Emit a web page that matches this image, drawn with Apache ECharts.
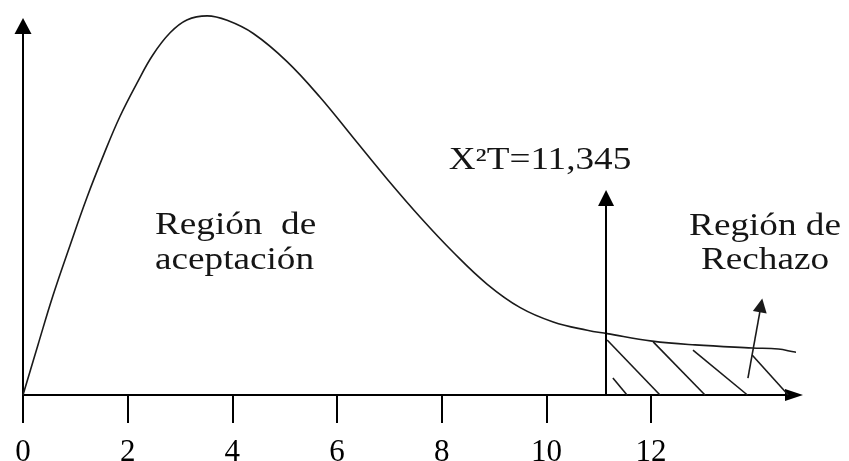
<!DOCTYPE html>
<html>
<head>
<meta charset="utf-8">
<script src="https://cdn.jsdelivr.net/npm/echarts@6.0.0/dist/echarts.min.js"></script>
<style>
html, body { margin: 0; padding: 0; background: #fff; }
#chart { width: 849px; height: 461px; }
</style>
</head>
<body>
<div id="chart"></div>
<script>
// curve (x in axis units, y in % of axis height)
var curveX = [0, 0.29, 0.57, 0.90, 1.22, 1.55, 1.85, 2.18, 2.48, 2.81, 3.13, 3.52, 3.90, 4.40, 5.04, 5.68, 6.31, 6.96, 7.59, 8.22, 8.87, 9.50, 10.13, 10.78, 11.16, 12.02, 12.84, 13.93, 14.43, 14.75, 15.17];
var curveY = [0, 13.5, 26.3, 39.8, 52.4, 64.1, 73.9, 82.9, 90.3, 96.2, 99.6, 100.7, 99.5, 96.0, 88.6, 79.0, 68.3, 57.3, 47.2, 37.9, 29.4, 23.2, 19.4, 17.2, 16.3, 14.3, 13.3, 12.5, 12.2, 11.4, 10.6];

var tickLabels = [0, 2, 4, 6, 8, 10, 12];

// critical value line
var criticalX = 11.14;
var criticalTop = 52.3;

// hatch strokes of the rejection region
var hatchStartX = [11.16, 12.04, 12.80, 13.93, 11.27];
var hatchStartY = [14.6, 14.1, 11.9, 10.6, 4.5];
var hatchEndX = [12.17, 13.03, 13.84, 14.62, 11.54];
var hatchEndY = [0, 0, 0, 0, 0];

// arrow pointing to the rejection region
var rejectArrowX = [13.85, 14.10];
var rejectArrowY = [4.5, 23.8];

var dom = document.getElementById('chart');
var myChart = echarts.init(dom, null, { renderer: 'canvas' });

var curveData = curveX.map(function (x, i) { return [x, curveY[i]]; });

var hatchLines = hatchStartX.map(function (x, i) {
    return [{ coord: [x, hatchStartY[i]] }, { coord: [hatchEndX[i], hatchEndY[i]] }];
});

var serifFont = 'Liberation Serif';
var textColor = '#151515';

function textItem(str, x, y, align) {
    return {
        type: 'text',
        x: x,
        y: y,
        scaleX: 1.2,
        silent: true,
        style: {
            text: str,
            fontSize: 31,
            fontFamily: serifFont,
            fill: textColor,
            align: align,
            verticalAlign: 'middle'
        }
    };
}

var option = {
    animation: false,
    backgroundColor: '#fff',
    grid: { left: 23, right: 55, top: 26, bottom: 66, outerBoundsMode: 'none' },
    xAxis: {
        type: 'value',
        min: 0,
        max: 14.73,
        splitLine: { show: false },
        axisLine: {
            symbol: ['none', 'triangle'],
            symbolSize: [12, 18],
            lineStyle: { color: '#000', width: 2 }
        },
        axisTick: {
            customValues: tickLabels,
            length: 28,
            lineStyle: { color: '#000', width: 2 }
        },
        axisLabel: {
            customValues: tickLabels,
            margin: 42,
            fontSize: 31,
            fontFamily: serifFont,
            color: '#000'
        }
    },
    yAxis: {
        type: 'value',
        min: 0,
        max: 98,
        splitLine: { show: false },
        axisTick: { show: false },
        axisLabel: { show: false },
        axisLine: {
            show: true,
            symbol: ['none', 'triangle'],
            symbolSize: [17, 16],
            lineStyle: { color: '#000', width: 2 }
        }
    },
    series: [
        {
            type: 'line',
            data: curveData,
            smooth: 0.4,
            showSymbol: false,
            clip: false,
            silent: true,
            lineStyle: { color: '#1a1a1a', width: 1.6 }
        },
        {
            type: 'line',
            data: [],
            silent: true,
            markLine: {
                silent: true,
                symbol: 'none',
                label: { show: false },
                lineStyle: { color: '#1a1a1a', width: 1.6, type: 'solid' },
                data: hatchLines
            }
        },
        {
            type: 'line',
            data: [],
            silent: true,
            markLine: {
                silent: true,
                symbol: ['none', 'triangle'],
                symbolSize: [16, 16],
                label: { show: false },
                lineStyle: { color: '#000', width: 2, type: 'solid' },
                data: [
                    [{ coord: [criticalX, 0] }, { coord: [criticalX, criticalTop] }]
                ]
            }
        },
        {
            type: 'line',
            data: [],
            silent: true,
            markLine: {
                silent: true,
                symbol: ['none', 'triangle'],
                symbolSize: [14, 14],
                label: { show: false },
                lineStyle: { color: '#1a1a1a', width: 1.6, type: 'solid' },
                data: [
                    [{ coord: [rejectArrowX[0], rejectArrowY[0]] }, { coord: [rejectArrowX[1], rejectArrowY[1]] }]
                ]
            }
        }
    ],
    graphic: [
        textItem('X\u00b2T=11,345', 540, 161, 'center'),
        textItem('Regi\u00f3n  de', 155, 226, 'left'),
        textItem('aceptaci\u00f3n', 155, 261, 'left'),
        textItem('Regi\u00f3n de', 765, 227, 'center'),
        textItem('Rechazo', 765, 261, 'center')
    ]
};

myChart.setOption(option);
window.addEventListener('resize', myChart.resize);
</script>
</body>
</html>
